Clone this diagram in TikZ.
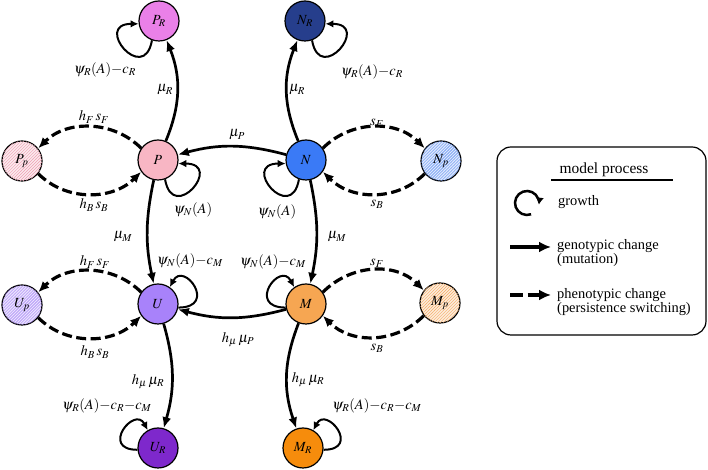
\documentclass[tikz,border=0pt]{standalone}
\usepackage{mathptmx}
\usepackage{fontspec}
\setmainfont{Liberation Serif}
\usetikzlibrary{arrows.meta,patterns}
\definecolor{cPR}{RGB}{234,128,232}
\definecolor{cNR}{RGB}{38,62,140}
\definecolor{cP}{RGB}{248,182,196}
\definecolor{cN}{RGB}{58,122,246}
\definecolor{cU}{RGB}{168,130,250}
\definecolor{cM}{RGB}{246,166,82}
\definecolor{cUR}{RGB}{126,40,204}
\definecolor{cMR}{RGB}{246,140,12}
\definecolor{bPp}{RGB}{252,234,238}
\definecolor{lPp}{RGB}{238,160,178}
\definecolor{bNp}{RGB}{222,232,252}
\definecolor{lNp}{RGB}{90,140,240}
\definecolor{bUp}{RGB}{234,226,253}
\definecolor{lUp}{RGB}{160,125,245}
\definecolor{bMp}{RGB}{253,236,218}
\definecolor{lMp}{RGB}{244,170,100}
\begin{document}
\begin{tikzpicture}[x=1bp,y=1bp,
  st/.style={circle,draw,line width=1.2bp,minimum size=40bp,inner sep=0pt,font=\fontsize{14}{14}\selectfont},
  hatch/.style 2 args={fill=#1,postaction={pattern=north east lines,pattern color=#2}},
  gen/.style={line width=2.7bp,-{Latex[length=11bp,width=9bp]}},
  phen/.style={line width=3.2bp,dash pattern=on 10bp off 4.5bp,-{Latex[length=11bp,width=9.5bp]}},
  growloop/.style={line width=2bp,-{Latex[length=8bp,width=7.5bp]}},
  lab/.style={font=\fontsize{14.5}{14.5}\selectfont,inner sep=0pt},
  legtxt/.style={font=\fontsize{14.5}{14}\selectfont,inner sep=0pt,anchor=west,align=left},
]
\useasboundingbox (0,0) rectangle (708,470);
% nodes
\node[st,fill=cPR] (PR) at (159,449) {$P_R$};
\node[st,fill=cNR] (NR) at (305,449) {$N_R$};
\node[st,fill=cP] (P) at (158,310) {$P$};
\node[st,fill=cN] (N) at (306,310) {$N$};
\node[st,hatch={bPp}{lPp}] (Pp) at (22,309) {$P_p$};
\node[st,hatch={bNp}{lNp}] (Np) at (441,309) {$N_p$};
\node[st,fill=cU] (U) at (158,166) {$U$};
\node[st,fill=cM] (M) at (306,166) {$M$};
\node[st,hatch={bUp}{lUp}] (Up) at (22,165) {$U_p$};
\node[st,hatch={bMp}{lMp}] (Mp) at (440,167) {$M_p$};
\node[st,fill=cUR] (UR) at (158,22) {$U_R$};
\node[st,fill=cMR] (MR) at (303,22) {$M_R$};
% genotypic changes
\draw[gen] (P) to[bend right=22] (PR);
\draw[gen] (N) to[bend left=22] (NR);
\draw[gen] (N) to[bend right=15] (P);
\draw[gen] (M) to[bend left=15] (U);
\draw[gen] (P) to[bend right=12] (U);
\draw[gen] (N) to[bend left=12] (M);
\draw[gen] (U) to[bend left=16] (UR);
\draw[gen] (M) to[bend right=20] (MR);
% phenotypic changes
\draw[phen] (P.145) .. controls +(135:40) and +(45:40) .. (Pp.38);
\draw[phen] (Pp.322) .. controls +(315:40) and +(225:40) .. (P.215);
\draw[phen] (N.35) .. controls +(45:40) and +(135:40) .. (Np.142);
\draw[phen] (Np.218) .. controls +(225:40) and +(315:40) .. (N.325);
\draw[phen] (U.145) .. controls +(135:40) and +(45:40) .. (Up.38);
\draw[phen] (Up.322) .. controls +(315:40) and +(225:40) .. (U.215);
\draw[phen] (M.35) .. controls +(45:40) and +(135:40) .. (Mp.142);
\draw[phen] (Mp.218) .. controls +(225:40) and +(315:40) .. (M.325);
% growth loops
\draw[growloop] (PR.250) .. controls +(260:46) and +(180:46) .. (PR.188);
\draw[growloop] (NR.290) .. controls +(280:46) and +(0:46) .. (NR.352);
\draw[growloop] (P.290) .. controls +(280:46) and +(0:46) .. (P.350);
\draw[growloop] (N.250) .. controls +(260:46) and +(180:46) .. (N.190);
\draw[growloop] (U.350) .. controls +(0:40) and +(62:30) .. (U.55);
\draw[growloop] (M.190) .. controls +(180:40) and +(118:30) .. (M.125);
\draw[growloop] (UR.185) .. controls +(180:38) and +(118:28) .. (UR.120);
\draw[growloop] (MR.355) .. controls +(0:38) and +(62:28) .. (MR.60);
% labels
\node[lab] (lPRg) at (105,400) {$\psi_R(A){-}c_R$};
\node[lab] (lNRg) at (372,398) {$\psi_R(A){-}c_R$};
\node[lab] (lPg) at (193,260) {$\psi_N(A)$};
\node[lab] (lNg) at (277,258) {$\psi_N(A)$};
\node[lab] (lUg) at (190,209) {$\psi_N(A){-}c_M$};
\node[lab] (lMg) at (273,208) {$\psi_N(A){-}c_M$};
\node[lab] (lURg) at (107,64) {$\psi_R(A){-}c_R{-}c_M$};
\node[lab] (lMRg) at (377,64) {$\psi_R(A){-}c_R{-}c_M$};
\node[lab] (lPR) at (165,380) {$\mu_R$};
\node[lab] (lNR) at (297,380) {$\mu_R$};
\node[lab] (lNP) at (237,335) {$\mu_P$};
\node[lab] (lPU) at (123,233) {$\mu_M$};
\node[lab] (lNM) at (337,233) {$\mu_M$};
\node[lab] (lMU) at (238,130) {$h_\mu\,\mu_P$};
\node[lab] (lUUR) at (148,88) {$h_\mu\,\mu_R$};
\node[lab] (lMMR) at (308,90) {$h_\mu\,\mu_R$};
\node[lab] (lPPp) at (94,353) {$h_F\,s_F$};
\node[lab] (lPpP) at (94,265) {$h_B\,s_B$};
\node[lab] (lNNp) at (377,347) {$s_F$};
\node[lab] (lNpN) at (377,266) {$s_B$};
\node[lab] (lUUp) at (95,208) {$h_F\,s_F$};
\node[lab] (lUpU) at (95,118) {$h_B\,s_B$};
\node[lab] (lMMp) at (377,207) {$s_F$};
\node[lab] (lMpM) at (377,122) {$s_B$};
% legend
\draw[line width=1.2bp,rounded corners=14bp] (497,135) rectangle (706,323);
\node[font=\fontsize{15.5}{15.5}\selectfont,inner sep=0pt] (ltitle) at (604,300) {model process};
\draw[line width=1.5bp] (551,290) -- (673,290);
\draw[shift={(527,267)},line width=2.5bp,-{Latex[length=7bp,width=8bp]}] (-70:12) arc[start angle=-70,end angle=-368,radius=12];
\node[legtxt] (lgrow) at (558,268) {growth};
\coordinate (ga) at (510,223);
\coordinate (gb) at (551,223);
\draw[line width=3.3bp,-{Latex[length=12bp,width=11bp]}] (ga) -- (gb);
\node[legtxt] (lgen) at (557,217) {genotypic change\\(mutation)};
\coordinate (pa) at (510,175);
\coordinate (pb) at (551,175);
\draw[line width=3.3bp,dash pattern=on 13bp off 4.5bp,-{Latex[length=12bp,width=11bp]}] (pa) -- (pb);
\node[legtxt] (lphen) at (557,168) {phenotypic change\\(persistence switching)};
\end{tikzpicture}
\end{document}
